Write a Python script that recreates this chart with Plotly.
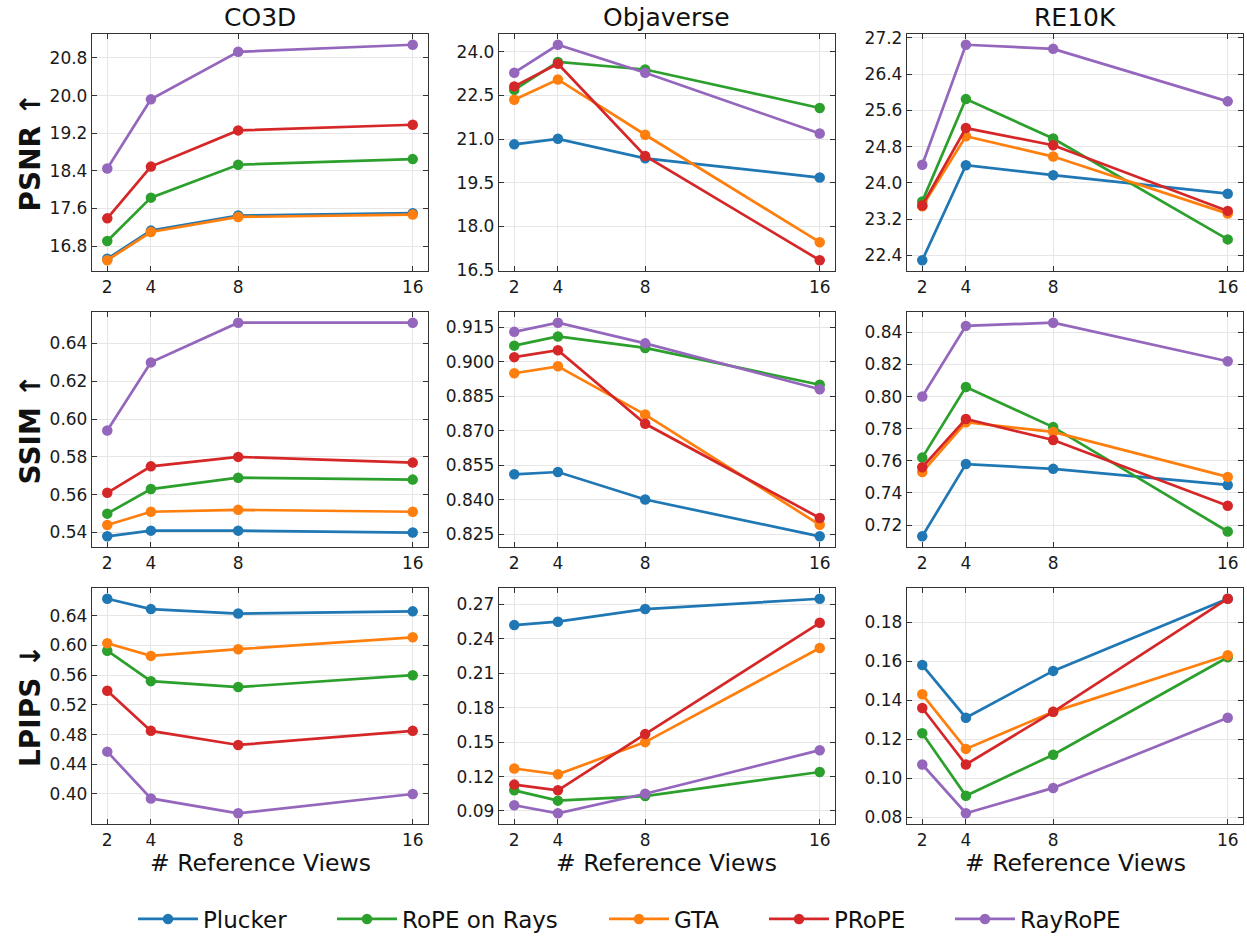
import plotly.graph_objects as go

# ---------------- data ----------------
views = [2, 4, 8, 16]
methods = ["Plucker", "RoPE on Rays", "GTA", "PRoPE", "RayRoPE"]
colors = ["#1f77b4", "#2ca02c", "#ff7f0e", "#d62728", "#9467bd"]
datasets = ["CO3D", "Objaverse", "RE10K"]
metrics = ["PSNR ↑", "SSIM ↑", "LPIPS ↓"]

# PSNR
psnr_co3d_plucker = [16.53, 17.13, 17.45, 17.50]
psnr_co3d_rope = [16.91, 17.83, 18.53, 18.65]
psnr_co3d_gta = [16.50, 17.10, 17.42, 17.47]
psnr_co3d_prope = [17.39, 18.49, 19.26, 19.38]
psnr_co3d_rayrope = [18.45, 19.92, 20.93, 21.08]

psnr_obj_plucker = [20.82, 21.01, 20.34, 19.68]
psnr_obj_rope = [22.69, 23.65, 23.39, 22.07]
psnr_obj_gta = [22.35, 23.05, 21.15, 17.46]
psnr_obj_prope = [22.81, 23.59, 20.42, 16.84]
psnr_obj_rayrope = [23.28, 24.24, 23.28, 21.19]

psnr_re_plucker = [22.29, 24.39, 24.17, 23.76]
psnr_re_rope = [23.59, 25.85, 24.98, 22.75]
psnr_re_gta = [23.48, 25.03, 24.58, 23.32]
psnr_re_prope = [23.50, 25.21, 24.83, 23.38]
psnr_re_rayrope = [24.40, 27.05, 26.96, 25.80]

# SSIM
ssim_co3d_plucker = [0.538, 0.541, 0.541, 0.540]
ssim_co3d_rope = [0.550, 0.563, 0.569, 0.568]
ssim_co3d_gta = [0.544, 0.551, 0.552, 0.551]
ssim_co3d_prope = [0.561, 0.575, 0.580, 0.577]
ssim_co3d_rayrope = [0.594, 0.630, 0.651, 0.651]

ssim_obj_plucker = [0.851, 0.852, 0.840, 0.824]
ssim_obj_rope = [0.907, 0.911, 0.906, 0.890]
ssim_obj_gta = [0.895, 0.898, 0.877, 0.829]
ssim_obj_prope = [0.902, 0.905, 0.873, 0.832]
ssim_obj_rayrope = [0.913, 0.917, 0.908, 0.888]

ssim_re_plucker = [0.713, 0.758, 0.755, 0.745]
ssim_re_rope = [0.762, 0.806, 0.781, 0.716]
ssim_re_gta = [0.753, 0.784, 0.778, 0.750]
ssim_re_prope = [0.756, 0.786, 0.773, 0.732]
ssim_re_rayrope = [0.800, 0.844, 0.846, 0.822]

# LPIPS
lpips_co3d_plucker = [0.663, 0.649, 0.643, 0.646]
lpips_co3d_rope = [0.593, 0.552, 0.544, 0.560]
lpips_co3d_gta = [0.603, 0.586, 0.595, 0.611]
lpips_co3d_prope = [0.539, 0.485, 0.466, 0.485]
lpips_co3d_rayrope = [0.457, 0.394, 0.374, 0.400]

lpips_obj_plucker = [0.252, 0.255, 0.266, 0.275]
lpips_obj_rope = [0.108, 0.099, 0.103, 0.124]
lpips_obj_gta = [0.127, 0.122, 0.150, 0.232]
lpips_obj_prope = [0.113, 0.108, 0.157, 0.254]
lpips_obj_rayrope = [0.095, 0.088, 0.105, 0.143]

lpips_re_plucker = [0.158, 0.131, 0.155, 0.192]
lpips_re_rope = [0.123, 0.091, 0.112, 0.162]
lpips_re_gta = [0.143, 0.115, 0.134, 0.163]
lpips_re_prope = [0.136, 0.107, 0.134, 0.192]
lpips_re_rayrope = [0.107, 0.082, 0.095, 0.131]

# tick labels per panel
ticks_psnr_co3d = [16.8, 17.6, 18.4, 19.2, 20.0, 20.8]
ticks_psnr_obj = [16.5, 18.0, 19.5, 21.0, 22.5, 24.0]
ticks_psnr_re = [22.4, 23.2, 24.0, 24.8, 25.6, 26.4, 27.2]
ticks_ssim_co3d = [0.54, 0.56, 0.58, 0.60, 0.62, 0.64]
ticks_ssim_obj = [0.825, 0.840, 0.855, 0.870, 0.885, 0.900, 0.915]
ticks_ssim_re = [0.72, 0.74, 0.76, 0.78, 0.80, 0.82, 0.84]
ticks_lpips_co3d = [0.40, 0.44, 0.48, 0.52, 0.56, 0.60, 0.64]
ticks_lpips_obj = [0.09, 0.12, 0.15, 0.18, 0.21, 0.24, 0.27]
ticks_lpips_re = [0.08, 0.10, 0.12, 0.14, 0.16, 0.18]

panels = [
    [([psnr_co3d_plucker, psnr_co3d_rope, psnr_co3d_gta, psnr_co3d_prope, psnr_co3d_rayrope], ticks_psnr_co3d, ".1f"),
     ([psnr_obj_plucker, psnr_obj_rope, psnr_obj_gta, psnr_obj_prope, psnr_obj_rayrope], ticks_psnr_obj, ".1f"),
     ([psnr_re_plucker, psnr_re_rope, psnr_re_gta, psnr_re_prope, psnr_re_rayrope], ticks_psnr_re, ".1f")],
    [([ssim_co3d_plucker, ssim_co3d_rope, ssim_co3d_gta, ssim_co3d_prope, ssim_co3d_rayrope], ticks_ssim_co3d, ".2f"),
     ([ssim_obj_plucker, ssim_obj_rope, ssim_obj_gta, ssim_obj_prope, ssim_obj_rayrope], ticks_ssim_obj, ".3f"),
     ([ssim_re_plucker, ssim_re_rope, ssim_re_gta, ssim_re_prope, ssim_re_rayrope], ticks_ssim_re, ".2f")],
    [([lpips_co3d_plucker, lpips_co3d_rope, lpips_co3d_gta, lpips_co3d_prope, lpips_co3d_rayrope], ticks_lpips_co3d, ".2f"),
     ([lpips_obj_plucker, lpips_obj_rope, lpips_obj_gta, lpips_obj_prope, lpips_obj_rayrope], ticks_lpips_obj, ".2f"),
     ([lpips_re_plucker, lpips_re_rope, lpips_re_gta, lpips_re_prope, lpips_re_rayrope], ticks_lpips_re, ".2f")],
]

# ---------------- layout ----------------
W, H = 1247, 936
col_px = [(92, 428), (499, 835), (907, 1243)]
row_px = [(34, 271), (312, 547), (588, 824)]
legend_px = [139, 338, 610, 770, 956]   # left edge of each legend entry
FONT = "DejaVu Sans"

fig = go.Figure()
layout_axes = {}
for r in range(3):
    for c in range(3):
        idx = r * 3 + c + 1
        xa = "x" if idx == 1 else f"x{idx}"
        ya = "y" if idx == 1 else f"y{idx}"
        series, ticks, fmt = panels[r][c]
        for m, vals in enumerate(series):
            fig.add_trace(go.Scatter(
                x=views, y=vals, mode="lines+markers", name=methods[m],
                legend="legend" if m == 0 else f"legend{m + 1}",
                legendgroup=methods[m], showlegend=(idx == 1),
                line=dict(color=colors[m], width=2.7),
                marker=dict(color=colors[m], size=10.5),
                xaxis=xa, yaxis=ya,
            ))
        allv = [v for s in series for v in s]
        lo, hi = min(allv), max(allv)
        span = hi - lo
        x0, x1 = col_px[c]
        y0, y1 = row_px[r]
        common = dict(
            showline=True, linecolor="#333333", linewidth=1.3, mirror="allticks",
            ticks="inside", ticklen=5, tickwidth=1, tickcolor="#333333",
            showgrid=True, gridcolor="#e6e6e6", gridwidth=1, zeroline=False,
            automargin=False,
            tickfont=dict(family=FONT, size=17, color="#1a1a1a"),
        )
        layout_axes["xaxis" if idx == 1 else f"xaxis{idx}"] = dict(
            common, domain=[x0 / W, x1 / W], anchor=ya,
            range=[views[0] - 0.05 * (views[-1] - views[0]), views[-1] + 0.05 * (views[-1] - views[0])],
            tickvals=views, ticktext=[str(v) for v in views],
        )
        layout_axes["yaxis" if idx == 1 else f"yaxis{idx}"] = dict(
            common, domain=[1 - y1 / H, 1 - y0 / H], anchor=xa,
            range=[lo - 0.05 * span, hi + 0.05 * span],
            tickvals=ticks, ticktext=[format(t, fmt) for t in ticks],
        )

annotations = []
for c, name in enumerate(datasets):
    x0, x1 = col_px[c]
    annotations.append(dict(
        text=name, x=(x0 + x1) / 2 / W, y=1 - row_px[0][0] / H, xref="paper", yref="paper",
        xanchor="center", yanchor="bottom", yshift=0, showarrow=False,
        font=dict(family=FONT, size=25, color="#111111"),
    ))
    annotations.append(dict(
        text="# Reference Views", x=(x0 + x1) / 2 / W, y=1 - 863 / H, xref="paper", yref="paper",
        xanchor="center", yanchor="middle", showarrow=False,
        font=dict(family=FONT, size=23.5, color="#111111"),
    ))
for r, name in enumerate(metrics):
    y0, y1 = row_px[r]
    annotations.append(dict(
        text=f"<b>{name}</b>", x=30 / W, y=1 - (y0 + y1) / 2 / H, xref="paper", yref="paper",
        xanchor="center", yanchor="middle", textangle=-90, showarrow=False,
        font=dict(family=FONT, size=28, color="#111111"),
    ))

legends = {}
for m in range(len(methods)):
    key = "legend" if m == 0 else f"legend{m + 1}"
    legends[key] = dict(
        orientation="h", x=(legend_px[m] - 6) / W, xanchor="left", y=1 - 919 / H, yanchor="middle",
        font=dict(family=FONT, size=23, color="#111111"),
        itemwidth=60, bgcolor="rgba(0,0,0,0)", borderwidth=0,
    )

fig.update_layout(
    width=W, height=H, autosize=False,
    margin=dict(l=0, r=0, t=0, b=0, autoexpand=False),
    paper_bgcolor="white", plot_bgcolor="white",
    font=dict(family=FONT, color="#111111"),
    showlegend=True,
    annotations=annotations,
    **legends,
    **layout_axes,
)

fig.write_html("out.html", config={"displayModeBar": False},
               post_script="document.body.style.margin='0';")
